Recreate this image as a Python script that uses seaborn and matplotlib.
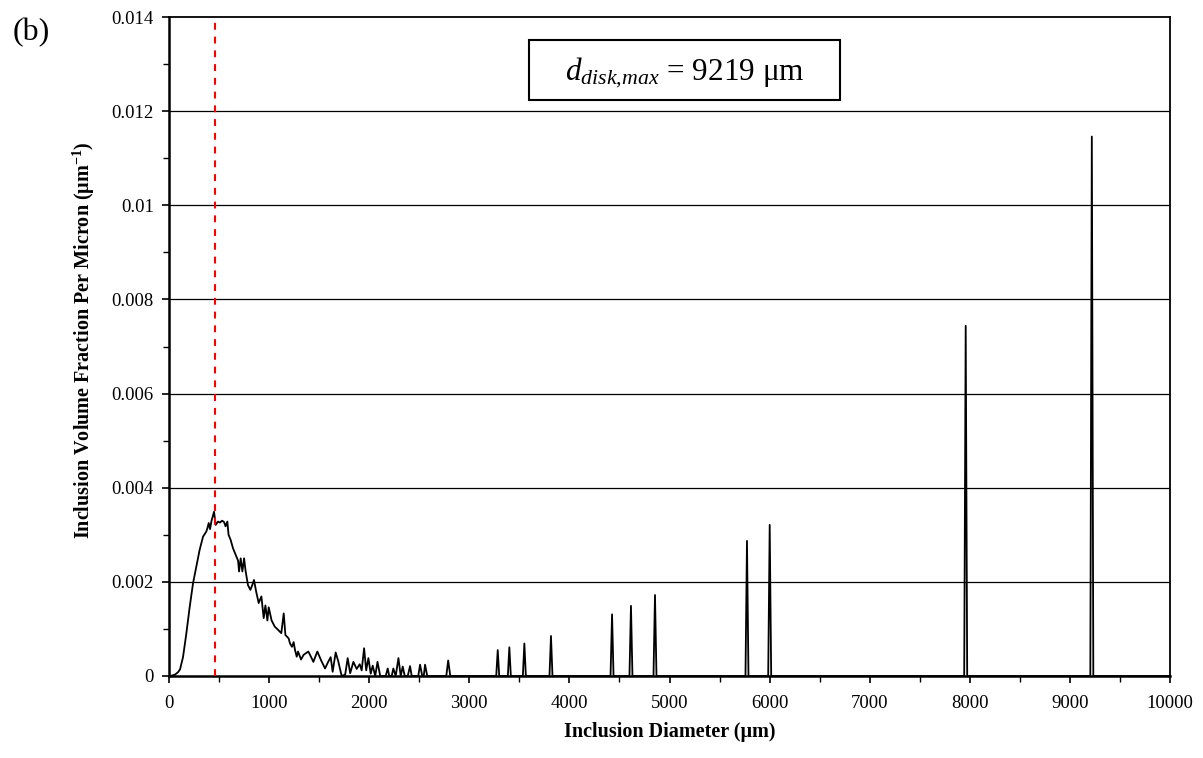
import numpy as np
import pandas as pd
import seaborn as sns
import matplotlib
matplotlib.use("Agg")
import matplotlib.pyplot as plt
from matplotlib.patches import Rectangle
from matplotlib.ticker import MultipleLocator, FixedLocator, FixedFormatter

# ---- data ----
curve_d = [0, 30, 60, 90, 110, 140, 173, 207, 240, 273, 306, 340, 373, 385, 397, 410, 425,
           450, 466, 490, 510, 530, 550, 565, 583, 595, 616, 640, 673, 690, 700, 716, 733,
           750, 766, 789, 813, 830, 849, 872, 896, 923, 946, 963, 983, 996, 1025, 1056,
           1090, 1122, 1146, 1163, 1195, 1209, 1229, 1245, 1259, 1276, 1289, 1319, 1345,
           1392, 1420, 1442, 1482, 1520, 1559, 1590, 1615, 1635, 1665, 1690, 1725, 1760,
           1785, 1810, 1842, 1875, 1905, 1925, 1949, 1970, 1992, 2015, 2035, 2060, 2083,
           2110, 2165, 2185, 2200, 2225, 2241, 2265, 2292, 2315, 2335, 2355, 2385, 2408,
           2425, 2490, 2508, 2530, 2545, 2558, 2580, 2770, 2789, 2810]
curve_f = [0.0, 0.00001, 0.00003, 0.00008, 0.00014, 0.00040, 0.00090, 0.00147, 0.00197,
           0.00232, 0.00268, 0.00296, 0.00307, 0.00315, 0.00325, 0.00312, 0.00330, 0.00349,
           0.00321, 0.00328, 0.00326, 0.00330, 0.00327, 0.00318, 0.00328, 0.00300, 0.00289,
           0.00271, 0.00254, 0.00245, 0.00222, 0.00250, 0.00222, 0.00250, 0.00222, 0.00193,
           0.00183, 0.00192, 0.00204, 0.00178, 0.00155, 0.00169, 0.00123, 0.00150, 0.00118,
           0.00146, 0.00118, 0.00105, 0.00098, 0.00091, 0.00133, 0.00087, 0.00080, 0.00069,
           0.00062, 0.00072, 0.00055, 0.00041, 0.00052, 0.00035, 0.00045, 0.00052, 0.00040,
           0.00030, 0.00052, 0.00033, 0.00016, 0.00030, 0.00040, 0.00009, 0.00050, 0.00032,
           0.0, 0.00003, 0.00038, 0.00006, 0.00030, 0.00015, 0.00025, 0.00012, 0.00059,
           0.00012, 0.00038, 0.00005, 0.00022, 0.0, 0.00030, 0.0, 0.0, 0.00016, 0.0, 0.0,
           0.00016, 0.0, 0.00038, 0.0, 0.00020, 0.0, 0.0, 0.00021, 0.0, 0.0, 0.00024, 0.0,
           0.0, 0.00024, 0.0, 0.0, 0.00033, 0.0]

spike_d = [3284, 3400, 3550, 3816, 4426, 4615, 4855, 5774, 6001, 7959, 9219]
spike_h = [0.00055, 0.00061, 0.00069, 0.00085, 0.00131, 0.00149, 0.00172, 0.00287,
           0.00321, 0.00744, 0.01146]

d_mean = 455          # red dashed marker
d_max_label = 9219

x_ticks = [0, 1000, 2000, 3000, 4000, 5000, 6000, 7000, 8000, 9000, 10000]
y_ticks = [0, 0.002, 0.004, 0.006, 0.008, 0.01, 0.012, 0.014]
y_tick_labels = ["0", "0.002", "0.004", "0.006", "0.008", "0.01", "0.012", "0.014"]

# ---- assemble series (spikes are narrow triangles on a zero baseline) ----
half_w = 15
xs = list(curve_d)
ys = list(curve_f)
for d, h in zip(spike_d, spike_h):
    xs += [d - half_w, d, d + half_w]
    ys += [0.0, h, 0.0]
xs.append(10000)
ys.append(0.0)
df = pd.DataFrame({"d": xs, "f": ys})

# ---- style ----
sns.set_theme(style="white")
plt.rcParams["font.family"] = ["Liberation Serif", "DejaVu Serif"]
plt.rcParams["mathtext.fontset"] = "custom"
plt.rcParams["mathtext.rm"] = "Liberation Serif"
plt.rcParams["mathtext.it"] = "Liberation Serif:italic"
plt.rcParams["mathtext.bf"] = "Liberation Serif:bold"

fig = plt.figure(figsize=(12.03, 7.58), dpi=100)
ax = fig.add_axes([169 / 1203, 1 - 676 / 758, (1170 - 169) / 1203, (676 - 17) / 758])

sns.lineplot(data=df, x="d", y="f", ax=ax, color="black", linewidth=1.3,
             estimator=None, sort=False, zorder=3)

ax.axvline(d_mean, color="red", linestyle=(0, (3.3, 3.3)), linewidth=1.5, zorder=4)

ax.set_xlim(0, 10000)
ax.set_ylim(0, 0.014)
ax.xaxis.set_major_locator(FixedLocator(x_ticks))
ax.set_xticklabels([str(v) for v in x_ticks])
ax.xaxis.set_minor_locator(MultipleLocator(500))
ax.yaxis.set_major_locator(FixedLocator(y_ticks))
ax.yaxis.set_major_formatter(FixedFormatter(y_tick_labels))
ax.yaxis.set_minor_locator(MultipleLocator(0.001))

ax.tick_params(axis="both", which="major", direction="out", length=5, width=1.2,
               color="black", labelsize=13.5, labelcolor="black")
ax.tick_params(axis="x", which="major", pad=9)
ax.tick_params(axis="y", which="major", pad=6)
ax.tick_params(axis="both", which="minor", direction="out", length=4, width=1.0,
               color="black")
ax.tick_params(axis="x", which="both", bottom=True)
ax.tick_params(axis="y", which="both", left=True)

ax.grid(False)
for yv in y_ticks[1:-1]:
    ax.axhline(yv, color="black", linewidth=0.9, zorder=1)

for s in ax.spines.values():
    s.set_color("black")
    s.set_linewidth(1.3)
ax.spines["left"].set_linewidth(1.8)
ax.spines["bottom"].set_linewidth(1.8)

ax.set_xlabel("Inclusion Diameter (μm)", fontsize=14.5, fontweight="bold",
              color="black", labelpad=7)
ax.set_ylabel("Inclusion Volume Fraction Per Micron (μm$^{\\mathbf{-1}}$)", fontsize=14.5,
              fontweight="bold", color="black")
ax.yaxis.set_label_coords(-0.072, 0.51)

# annotation box
bx0, bx1 = (529 - 169) / 1001, (840 - 169) / 1001
by0, by1 = (676 - 100) / 659, (676 - 40) / 659
ax.add_patch(Rectangle((bx0, by0), bx1 - bx0, by1 - by0, transform=ax.transAxes,
                       facecolor="white", edgecolor="black", linewidth=1.5, zorder=5))
ax.text((bx0 + bx1) / 2, (by0 + by1) / 2 - 0.004,
        "$d_{disk{,}max}$ = %d μm" % d_max_label, fontsize=22.5,
        ha="center", va="center", color="black", zorder=6, transform=ax.transAxes)

fig.text(13 / 1203, 1 - 33 / 758, "(b)", fontsize=23, ha="left", va="center",
         color="black")

fig.savefig("out.png", dpi=100, facecolor="white")
